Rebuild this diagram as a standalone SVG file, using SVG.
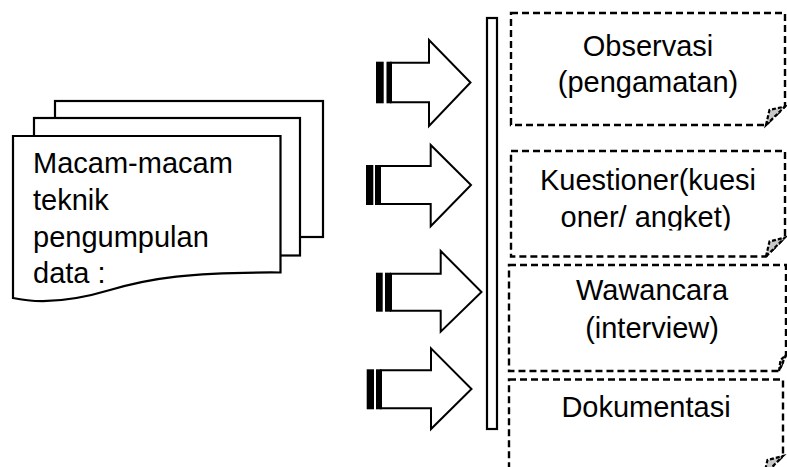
<svg xmlns="http://www.w3.org/2000/svg" width="787" height="467" viewBox="0 0 787 467">
<style>
.pg{fill:#fff;stroke:#000;stroke-width:2.2}
.ar{fill:#fff;stroke:#000;stroke-width:2;stroke-linejoin:miter}
.st{fill:#000}
.bx{fill:#fff;stroke:#000;stroke-width:2.4;stroke-dasharray:7 4}
.fd{fill:#c8c8c8;stroke:#000;stroke-width:2.2;stroke-dasharray:4 2}
.t{font-family:"Liberation Sans",Arial,sans-serif;font-size:29px;fill:#000}
.c{text-anchor:middle}
</style>
<defs>
<clipPath id="clipK"><rect x="511" y="151" width="274" height="79.5"/></clipPath>
</defs>
<rect width="787" height="467" fill="#fff"/>
<g id="doc">
<rect class="pg" x="55" y="101" width="268" height="136"/>
<rect class="pg" x="34" y="118" width="266" height="137.5"/>
<path class="pg" d="M13,136 H280.5 V272.5 C190,272 150,278 110,290 C70,302 40,304 13,298 Z"/>
<text class="t" x="33" y="172.5">Macam-macam</text>
<text class="t" x="33" y="209.5">teknik</text>
<text class="t" x="33" y="246.5">pengumpulan</text>
<text class="t" x="33" y="283">data :</text>
</g>
<g id="connectors">
<g id="arrow1">
<rect class="st" x="376" y="61.7" width="7.7" height="41.6"/>
<rect class="st" x="386.5" y="61.7" width="5" height="41.6"/>
<path class="ar" d="M391,62.7 H429 V40 L470.5,82.5 L429,126 V102.3 H391 Z"/>
</g>
<g id="arrow2">
<rect class="st" x="366" y="165" width="7.3" height="40"/>
<rect class="st" x="375" y="165" width="5.5" height="40"/>
<path class="ar" d="M380,166 H430.7 V145 L471,185 L430.7,226.3 V204 H380 Z"/>
</g>
<g id="arrow3">
<rect class="st" x="376" y="272.7" width="6.7" height="39"/>
<rect class="st" x="385" y="272.7" width="6" height="39"/>
<path class="ar" d="M391,273.7 H440.7 V251 L481.5,292 L440.7,331.7 V310.7 H391 Z"/>
</g>
<g id="arrow4">
<rect class="st" x="366.7" y="369.3" width="7.3" height="40"/>
<rect class="st" x="376" y="369.3" width="5.5" height="40"/>
<path class="ar" d="M381,370.3 H431 V348.3 L471.5,389 L431,429 V408.3 H381 Z"/>
</g>
</g>
<g id="bar">
<rect class="pg" x="487" y="18" width="10" height="411"/>
</g>
<g id="box1">
<path class="bx" d="M511,13 H785 V106.5 L766,125 H511 Z"/>
<path class="fd" d="M766,125 L769.5,110 L785,106.5 Z"/>
<text class="t c" x="648" y="56">Observasi</text>
<text class="t c" x="648" y="91.5">(pengamatan)</text>
</g>
<g id="box2">
<path class="bx" d="M511,151 H785 V237.5 L766,256.5 H511 Z"/>
<path class="fd" d="M766,256.5 L769.5,241.5 L785,237.5 Z"/>
<g clip-path="url(#clipK)">
<text class="t c" x="648" y="190">Kuestioner(kuesi</text>
<text class="t c" x="646" y="227">oner/ angket)</text>
</g>
</g>
<g id="box3">
<path class="bx" d="M509,265 H786 V355 L779,371 H509 Z"/>
<path class="fd" d="M779,371 L780.5,360 L786,355 Z"/>
<text class="t c" x="652" y="300">Wawancara</text>
<text class="t c" x="652" y="337.5">(interview)</text>
</g>
<g id="box4">
<path class="bx" d="M509,379.5 H783 V456 L764,475 H509 Z"/>
<path class="fd" d="M764,475 L767.5,460 L783,456 Z"/>
<text class="t c" x="646" y="416.5">Dokumentasi</text>
</g>
</svg>
